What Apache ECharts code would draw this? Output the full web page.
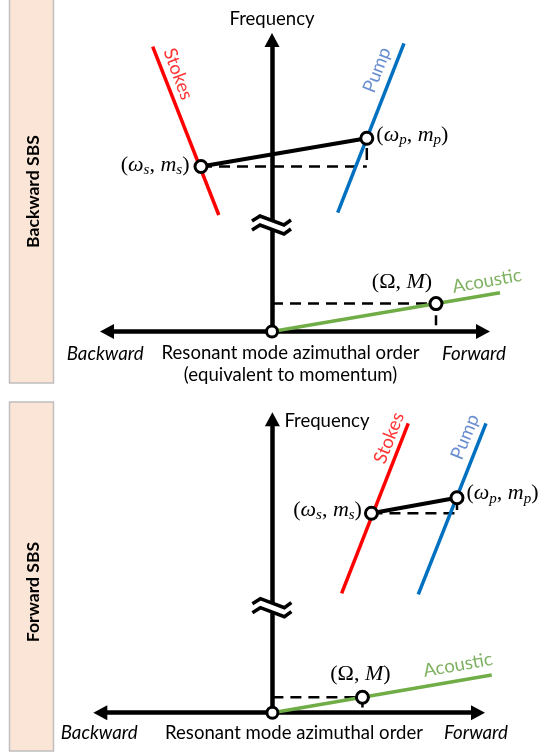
<!DOCTYPE html>
<html><head><meta charset="utf-8">
<script src="https://cdn.jsdelivr.net/npm/echarts@6/dist/echarts.min.js"></script>
<style>html,body{margin:0;padding:0;background:#fff}#c{width:543px;height:753px}</style>
</head><body><div id="c"></div>
<script>
// ---------------- text ----------------
const panelTitles = ['Backward SBS', 'Forward SBS'];
const axisNameY = 'Frequency';
const axisCaptions = ['Resonant mode azimuthal order\n(equivalent to momentum)', 'Resonant mode azimuthal order'];
const dirLabels = ['Backward', 'Forward'];
const curveNames = ['Stokes', 'Pump', 'Acoustic'];

// ---------------- data (x: azimuthal order / momentum, y: frequency; arbitrary units) ----------------
// Panel 1: backward SBS
const bwXRange = [-16.5, 21.1];
const bwYRange = [0, 29.15];
const bwStokes = [[-11.93, 28.48], [-5.32, 11.65]];
const bwPump = [[13.2, 28.82], [6.57, 11.88]];
const bwAcoustic = [[0, 0], [22.8, 3.88]];
const bwStokesPt = [-7.1, 16.5];
const bwPumpPt = [9.48, 19.32];
const bwPhononPt = [16.4, 2.79];
const bwBreak = 10.65;
const bwNamePos = [[-9.4, 25.75], [10.5, 26.15], [21.5, 5.05]];

// Panel 2: forward SBS
const fwXRange = [-17.2, 20.55];
const fwYRange = [0, 29.34];
const fwStokes = [[6.92, 11.94], [13.58, 28.94]];
const fwPump = [[14.58, 11.84], [21.35, 28.94]];
const fwAcoustic = [[0, 0], [21.92, 3.77]];
const fwStokesPt = [9.9, 19.94];
const fwPumpPt = [18.45, 21.5];
const fwPhononPt = [9.0, 1.55];
const fwBreak = 10.5;
const fwNamePos = [[11.65, 27.47], [19.25, 27.57], [18.55, 4.77]];

// ---------------- style ----------------
const RED = '#ff0000', BLUE = '#0070c0', GREEN = '#70ad47';
const NAME_COLORS = ['#ff0000', '#4472c4', '#5e9e3a'];
const BOX_FILL = '#fbe5d6', BOX_STROKE = '#bfbfbf';
const SANS = 'Lato, "Open Sans", "Noto Sans", sans-serif';
const MATH = '"Liberation Serif", "DejaVu Serif", serif';

function fit(text, style, weight, family, target) {
  const ctx = document.createElement('canvas').getContext('2d');
  ctx.font = style + ' ' + weight + ' 100px ' + family;
  return 100 * target / ctx.measureText(text).width;
}
const FS = fit('Resonant mode azimuthal order', 'normal', 'normal', SANS, 258);
const FS_I = fit('Backward', 'italic', 'normal', SANS, 77);
const FS_B = fit('Backward SBS', 'normal', 'bold', SANS, 113);
const MS = 22;

const panels = [
  { grid: {left: 107, right: 60, top: 40, bottom: 421.5},
    xr: bwXRange, yr: bwYRange, stokes: bwStokes, pump: bwPump, acoustic: bwAcoustic,
    sPt: bwStokesPt, pPt: bwPumpPt, aPt: bwPhononPt, brk: bwBreak, names: bwNamePos,
    rot: [-69.7, 68.8, 10],
    vDash: {dash: [12, 10], off: 12.3}, aDash: {dash: [10, 14], off: 12.3},
    freqName: {nameGap: 11, nameTextStyle: {align: 'center', verticalAlign: 'bottom'}},
    sLab: {position: 'left', distance: 4, offset: [0, -1]},
    pLab: {position: 'right', distance: 2, offset: [0, -3]},
    aLab: {position: 'top', distance: 3, offset: [-34, 0]}
  },
  { grid: {left: 100.3, right: 65, top: 419.3, bottom: 40.3},
    xr: fwXRange, yr: fwYRange, stokes: fwStokes, pump: fwPump, acoustic: fwAcoustic,
    sPt: fwStokesPt, pPt: fwPumpPt, aPt: fwPhononPt, brk: fwBreak, names: fwNamePos,
    rot: [68.3, 68, 10],
    vDash: {dash: [7, 10], off: 11.7}, aDash: {dash: [5, 12], off: 11.7},
    freqName: {nameGap: -2, nameTextStyle: {align: 'left', verticalAlign: 'middle', padding: [0, 0, 0, 12]}},
    sLab: {position: 'left', distance: 2, offset: [0, -3]},
    pLab: {position: 'right', distance: 2, offset: [0, -4]},
    aLab: {position: 'top', distance: 4, offset: [-2, 0]}
  }
];

const mathRich = {
  p: {fontFamily: MATH, fontSize: MS, color: '#000'},
  v: {fontFamily: MATH, fontSize: MS, fontStyle: 'italic', color: '#000'},
  s: {fontFamily: MATH, fontSize: Math.round(MS * 0.7), fontStyle: 'italic', color: '#000', padding: [10, 0, 0, 0]}
};
const lblS = '{p|(}{v|ω}{s|s}{p|, }{v|m}{s|s}{p|)}';
const lblP = '{p|(}{v|ω}{s|p}{p|, }{v|m}{s|p}{p|)}';
const lblA = '{p|(Ω, }{v|M}{p|)}';

const grids = [], xAxes = [], yAxes = [], series = [];
panels.forEach((d, i) => {
  grids.push(d.grid);
  const axisLine = {show: true, symbol: ['none', 'triangle'], symbolSize: [15, 14], lineStyle: {color: '#000', width: 4.5}};
  xAxes.push({type: 'value', gridIndex: i, min: d.xr[0], max: d.xr[1],
    axisLine: Object.assign({}, axisLine, {symbol: ['triangle', 'triangle'], onZero: true}),
    axisTick: {show: false}, axisLabel: {show: false}, splitLine: {show: false}});
  yAxes.push({type: 'value', gridIndex: i, min: d.yr[0], max: d.yr[1],
    name: axisNameY, nameLocation: 'end', nameGap: d.freqName.nameGap,
    nameTextStyle: Object.assign({fontFamily: SANS, fontSize: FS, color: '#000'}, d.freqName.nameTextStyle),
    axisLine: Object.assign({}, axisLine, {onZero: true}),
    axisTick: {show: false}, axisLabel: {show: false}, splitLine: {show: false}});
  const ax = {xAxisIndex: i, yAxisIndex: i, clip: false, silent: true};
  // straight segments drawn through the axes' scales (custom series, not clipped to the grid)
  const seg = (a, b, color, width, z, dash) => Object.assign({type: 'custom', z: z,
    data: [[a[0], a[1], b[0], b[1]]],
    renderItem: (params, api) => {
      const p1 = api.coord([api.value(0), api.value(1)]);
      const p2 = api.coord([api.value(2), api.value(3)]);
      return {type: 'line', shape: {x1: p1[0], y1: p1[1], x2: p2[0], y2: p2[1]},
        style: {stroke: color, lineWidth: width, lineCap: 'butt',
          lineDash: dash ? dash.dash : null, lineDashOffset: dash ? dash.off : 0}};
    }}, ax);
  series.push(seg(d.stokes[0], d.stokes[1], RED, 3.5, 3));
  series.push(seg(d.pump[0], d.pump[1], BLUE, 3.5, 3));
  series.push(seg(d.acoustic[0], d.acoustic[1], GREEN, 3.5, 3));
  series.push(seg(d.sPt, [d.pPt[0], d.sPt[1]], '#000', 2.5, 2, {dash: [11, 7], off: 0}));
  series.push(seg(d.pPt, [d.pPt[0], d.sPt[1]], '#000', 2.5, 2, d.vDash));
  series.push(seg([0, d.aPt[1]], d.aPt, '#000', 2.5, 2, {dash: [11, 7], off: 0}));
  series.push(seg(d.aPt, [d.aPt[0], 0], '#000', 2.5, 2, d.aDash));
  series.push(seg(d.sPt, d.pPt, '#000', 4, 4));
  // axis break mark on the frequency axis
  series.push(Object.assign({type: 'custom', z: 6, data: [[0, d.brk]],
    renderItem: (params, api) => {
      const p = api.coord([api.value(0), api.value(1)]);
      const cx = p[0], cy = p[1];
      const top = [[-20, -4], [-12, -9], [12, 0], [19, -5]].map(q => [cx + q[0], cy + q[1]]);
      const bot = [[-20, 5], [-12, 0], [12, 9], [19, 4]].map(q => [cx + q[0], cy + q[1]]);
      return {type: 'group', children: [
        {type: 'polygon', shape: {points: top.concat(bot.slice().reverse())}, style: {fill: '#fff', stroke: null}},
        {type: 'polyline', shape: {points: top}, style: {stroke: '#000', lineWidth: 3.5, fill: null}},
        {type: 'polyline', shape: {points: bot}, style: {stroke: '#000', lineWidth: 3.5, fill: null}}
      ]};
    }}, ax));
  // marked points with labels
  const lab = (cfg, txt) => Object.assign({show: true, formatter: txt, rich: mathRich}, cfg);
  series.push(Object.assign({type: 'scatter', z: 7, symbol: 'circle', symbolSize: 12,
    itemStyle: {color: '#fff', borderColor: '#000', borderWidth: 3, opacity: 1},
    data: [
      {value: d.sPt, label: lab(d.sLab, lblS)},
      {value: d.pPt, label: lab(d.pLab, lblP)},
      {value: d.aPt, label: lab(d.aLab, lblA)}
    ]}, ax));
  // origin
  series.push(Object.assign({type: 'scatter', z: 7, symbol: 'circle', symbolSize: 11,
    itemStyle: {color: '#fff', borderColor: '#000', borderWidth: 3, opacity: 1},
    data: [[0, 0]]}, ax));
  // curve names
  series.push(Object.assign({type: 'scatter', z: 7, symbolSize: 0,
    data: curveNames.map((n, k) => ({value: d.names[k], name: n,
      label: {show: true, position: 'inside', formatter: '{b}', rotate: d.rot[k], color: NAME_COLORS[k],
        fontFamily: SANS, fontSize: FS, align: 'center', verticalAlign: 'middle'}}))}, ax));
});

const txt = (x, y, text, o) => ({type: 'text', x: x, y: y, z: 20, silent: true,
  style: Object.assign({text: text, fill: '#000', fontFamily: SANS, fontSize: FS}, o)});

const graphic = [
  {type: 'rect', z: 0, shape: {x: 9.5, y: -2, width: 44, height: 385}, style: {fill: BOX_FILL, stroke: BOX_STROKE, lineWidth: 1.5}},
  {type: 'rect', z: 0, shape: {x: 9.5, y: 402, width: 44, height: 349}, style: {fill: BOX_FILL, stroke: BOX_STROKE, lineWidth: 1.5}},
  Object.assign(txt(33.5, 191.5, panelTitles[0], {fontWeight: 'bold', fontSize: FS_B, align: 'center', verticalAlign: 'middle'}), {rotation: Math.PI / 2}),
  Object.assign(txt(33.5, 592, panelTitles[1], {fontWeight: 'bold', fontSize: FS_B, align: 'center', verticalAlign: 'middle'}), {rotation: Math.PI / 2}),
  txt(66.7, 354, dirLabels[0], {fontStyle: 'italic', fontSize: FS_I, align: 'left', verticalAlign: 'middle'}),
  txt(506, 354, dirLabels[1], {fontStyle: 'italic', fontSize: FS_I, align: 'right', verticalAlign: 'middle'}),
  txt(290.5, 342, axisCaptions[0], {align: 'center', verticalAlign: 'top', lineHeight: 22}),
  txt(60.7, 733, dirLabels[0], {fontStyle: 'italic', fontSize: FS_I, align: 'left', verticalAlign: 'middle'}),
  txt(508, 733, dirLabels[1], {fontStyle: 'italic', fontSize: FS_I, align: 'right', verticalAlign: 'middle'}),
  txt(294, 733, axisCaptions[1], {align: 'center', verticalAlign: 'middle'})
];

const chart = echarts.init(document.getElementById('c'), null, {renderer: 'canvas'});
chart.setOption({
  animation: false,
  backgroundColor: '#fff',
  grid: grids, xAxis: xAxes, yAxis: yAxes, series: series, graphic: graphic
});
</script></body></html>
